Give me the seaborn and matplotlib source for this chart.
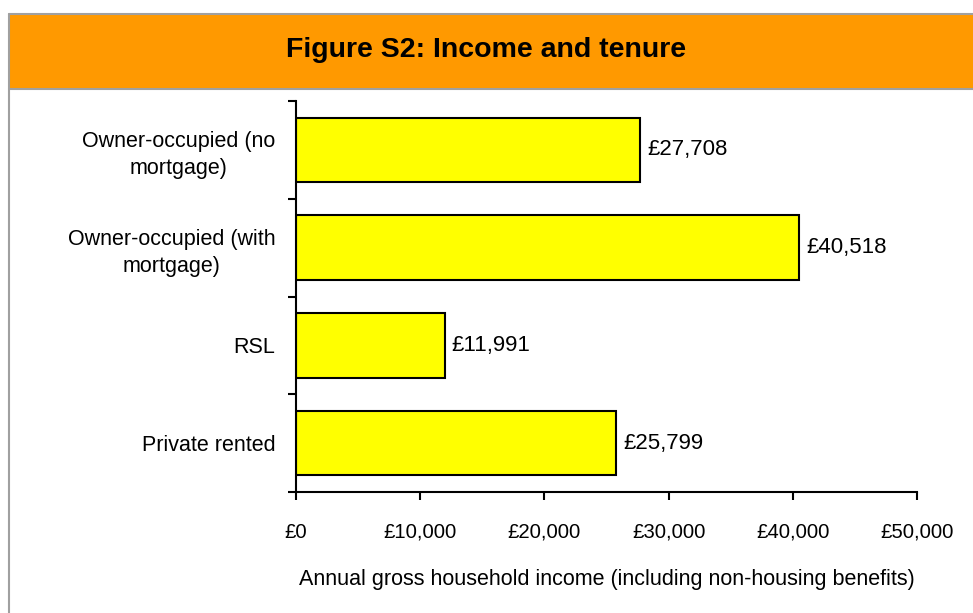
import matplotlib
matplotlib.use("Agg")
import matplotlib.pyplot as plt
import seaborn as sns
import pandas as pd
from matplotlib.patches import Rectangle
from matplotlib.lines import Line2D
from matplotlib.ticker import FuncFormatter, FixedLocator

categories = ["Owner-occupied (no\nmortgage)", "Owner-occupied (with\nmortgage)", "RSL", "Private rented"]
values = [27708, 40518, 11991, 25799]
xticks = [0, 10000, 20000, 30000, 40000, 50000]
title = "Figure S2: Income and tenure"
xlabel = "Annual gross household income (including non-housing benefits)"

sns.set_theme(style="white")
plt.rcParams['font.family'] = ['Liberation Sans', 'DejaVu Sans']
plt.rcParams['text.color'] = 'black'
plt.rcParams['axes.labelcolor'] = 'black'
plt.rcParams['xtick.color'] = 'black'
plt.rcParams['ytick.color'] = 'black'

W, H = 973, 613
fig = plt.figure(figsize=(W / 100, H / 100), dpi=100)

# Header band and frame
fig.patches.append(Rectangle((9 / W, 1 - 89 / H), 1 - 9 / W, 75 / H, transform=fig.transFigure,
                             facecolor="#FF9900", edgecolor="none", zorder=0))
gray = "#A0A0A0"
fig.lines.append(Line2D([9 / W, 1], [1 - 14 / H, 1 - 14 / H], transform=fig.transFigure, color=gray, lw=1.5))
fig.lines.append(Line2D([9 / W, 1], [1 - 89 / H, 1 - 89 / H], transform=fig.transFigure, color=gray, lw=1.5))
fig.lines.append(Line2D([9 / W, 9 / W], [0, 1 - 14 / H], transform=fig.transFigure, color=gray, lw=1.5))
fig.text(0.5, 1 - 50 / H, title, ha="center", va="center", fontsize=20.5, fontweight="bold", color="black")

ax = fig.add_axes([296 / W, 1 - 492 / H, (917 - 296) / W, (492 - 101) / H])
df = pd.DataFrame({"cat": categories, "val": values})
sns.barplot(data=df, x="val", y="cat", orient="h", color="#FFFF00", edgecolor="black",
            linewidth=1.5, width=0.66, saturation=1, ax=ax)
ax.set_xlim(0, 50000)
ax.set_ylim(3.5, -0.5)

for spine in ["top", "right"]:
    ax.spines[spine].set_visible(False)
for spine in ["left", "bottom"]:
    ax.spines[spine].set_color("black")
    ax.spines[spine].set_linewidth(1.5)

ax.set_xticks(xticks)
ax.xaxis.set_major_formatter(FuncFormatter(lambda v, p: "£{:,.0f}".format(v)))
ax.tick_params(axis="x", bottom=True, direction="out", length=6, width=1.5, color="black",
               pad=16, labelsize=14.7, labelcolor="black")
ax.tick_params(axis="y", which="major", left=False, length=0, pad=15, labelsize=15.5, labelcolor="black")
ax.yaxis.set_minor_locator(FixedLocator([-0.5, 0.5, 1.5, 2.5, 3.5]))
ax.tick_params(axis="y", which="minor", left=True, direction="out", length=6, width=1.5, color="black")
for lbl in ax.get_yticklabels():
    lbl.set_multialignment("center")
    lbl.set_linespacing(1.35)
ax.set_ylabel("")
ax.set_xlabel(xlabel, fontsize=15.5, labelpad=20, color="black")

for c in ax.containers:
    ax.bar_label(c, labels=["£{:,.0f}".format(v) for v in values], padding=5, fontsize=16, color="black")

fig.savefig("out.png", dpi=100)
